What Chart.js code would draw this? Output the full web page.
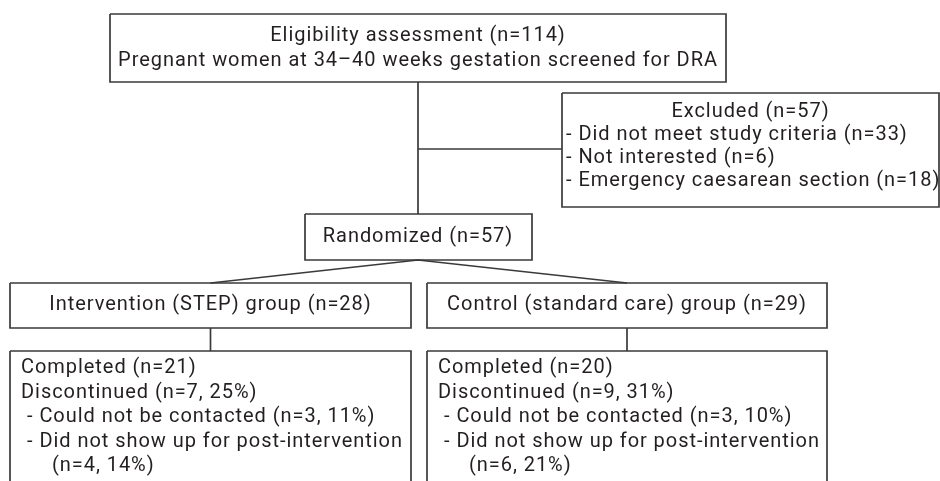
<!DOCTYPE html>
<html>
<head>
<meta charset="utf-8">
<script src="https://cdn.jsdelivr.net/npm/chart.js@4.4.1/dist/chart.umd.min.js"></script>
<style>
  html, body { margin: 0; padding: 0; background: #fff; }
  canvas { display: block; }
</style>
</head>
<body>
<canvas id="flow" width="940" height="481"></canvas>
<script>
// values
const screened = 114;
const excludedTotal = 57;
const exclusionReasons = ['Did not meet study criteria', 'Not interested', 'Emergency caesarean section'];
const exclusionCounts = [33, 6, 18];
const randomized = 57;
const groupNames = ['Intervention (STEP) group', 'Control (standard care) group'];
const allocated = [28, 29];
const completed = [21, 20];
const discontinued = [7, 9];
const discontinuedPct = [25, 31];
const notContacted = [3, 3];
const notContactedPct = [11, 10];
const noShow = [4, 6];
const noShowPct = [14, 21];

// box layout in diagram units (same as pixels here)
const boxes = {
  top:       [110, 14, 726, 82],
  excluded:  [562, 93, 939, 207],
  random:    [305, 214, 532, 260],
  group0:    [10, 283, 411, 328],
  group1:    [427, 283, 827, 328],
  result0:   [10, 351, 411, 500],
  result1:   [427, 351, 827, 500]
};

const lineColor = '#3a3a3a';
const textColor = '#231f20';
const font = '20px Roboto, "Liberation Sans", sans-serif';
const spacing = '0.95px';

function rect(b) {
  return [
    { x: b[0], y: b[1] }, { x: b[2], y: b[1] },
    { x: b[2], y: b[3] }, { x: b[0], y: b[3] }, { x: b[0], y: b[1] }
  ];
}
function cx(b) { return (b[0] + b[2]) / 2; }

const trunkX = 418;
const connectors = [
  [{ x: trunkX, y: boxes.top[3] }, { x: trunkX, y: boxes.random[1] }],
  [{ x: trunkX, y: 149 }, { x: boxes.excluded[0], y: 149 }],
  [{ x: cx(boxes.group0), y: boxes.group0[1] }, { x: trunkX, y: boxes.random[3] }, { x: cx(boxes.group1), y: boxes.group1[1] }],
  [{ x: cx(boxes.group0), y: boxes.group0[3] }, { x: cx(boxes.group0), y: boxes.result0[1] }],
  [{ x: cx(boxes.group1), y: boxes.group1[3] }, { x: cx(boxes.group1), y: boxes.result1[1] }]
];

// text entries: [text, x, y, align]
const texts = [];
texts.push(['Eligibility assessment (n=' + screened + ')', trunkX, 36, 'center']);
texts.push(['Pregnant women at 34\u201340 weeks gestation screened for DRA', trunkX, 61, 'center']);
texts.push(['Excluded (n=' + excludedTotal + ')', cx(boxes.excluded), 112, 'center']);
exclusionReasons.forEach((r, i) => {
  texts.push(['- ' + r + ' (n=' + exclusionCounts[i] + ')', boxes.excluded[0] + 4, 135 + i * 23, 'left']);
});
texts.push(['Randomized (n=' + randomized + ')', trunkX, 237, 'center']);
groupNames.forEach((g, i) => {
  const gb = boxes['group' + i];
  texts.push([g + ' (n=' + allocated[i] + ')', cx(gb), 305, 'center']);
  const rb = boxes['result' + i];
  const lines = [
    ['Completed (n=' + completed[i] + ')', 11],
    ['Discontinued (n=' + discontinued[i] + ', ' + discontinuedPct[i] + '%)', 11],
    ['- Could not be contacted (n=' + notContacted[i] + ', ' + notContactedPct[i] + '%)', 17],
    ['- Did not show up for post-intervention', 17],
    ['(n=' + noShow[i] + ', ' + noShowPct[i] + '%)', 42]
  ];
  lines.forEach((l, k) => texts.push([l[0], rb[0] + l[1], 368 + k * 24.5, 'left']));
});

const datasets = [];
Object.values(boxes).forEach(b => datasets.push({ data: rect(b) }));
connectors.forEach(c => datasets.push({ data: c }));
datasets.forEach(d => {
  d.showLine = true;
  d.borderColor = lineColor;
  d.borderWidth = 1.7;
  d.pointRadius = 0;
  d.fill = false;
  d.tension = 0;
  d.clip = false;
});

const labelPlugin = {
  id: 'flowText',
  afterDatasetsDraw(chart) {
    const ctx = chart.ctx;
    const xs = chart.scales.x, ys = chart.scales.y;
    ctx.save();
    ctx.font = font;
    if ('letterSpacing' in ctx) ctx.letterSpacing = spacing;
    ctx.fillStyle = textColor;
    ctx.textBaseline = 'middle';
    texts.forEach(t => {
      ctx.textAlign = t[3];
      ctx.fillText(t[0], xs.getPixelForValue(t[1]), ys.getPixelForValue(t[2]));
    });
    ctx.restore();
  }
};

new Chart(document.getElementById('flow'), {
  type: 'scatter',
  data: { datasets: datasets },
  options: {
    responsive: false,
    animation: false,
    layout: { padding: 0 },
    plugins: { legend: { display: false }, tooltip: { enabled: false } },
    scales: {
      x: { type: 'linear', min: 0, max: 940, display: false },
      y: { type: 'linear', min: 0, max: 481, reverse: true, display: false }
    }
  },
  plugins: [labelPlugin]
});
</script>
</body>
</html>
